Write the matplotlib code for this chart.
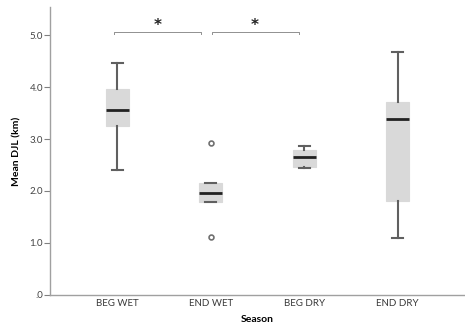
import matplotlib
matplotlib.use("Agg")
import matplotlib.pyplot as plt

plt.rcParams['font.family'] = ['Lato', 'DejaVu Sans']

seasons = ['BEG WET', 'END WET', 'BEG DRY', 'END DRY']
# box summaries: whisker low, Q1, median, Q3, whisker high
whis_lo = [2.40, 1.78, 2.45, 1.10]
q1 = [3.25, 1.78, 2.47, 1.80]
med = [3.56, 1.97, 2.65, 3.38]
q3 = [3.96, 2.15, 2.78, 3.72]
whis_hi = [4.46, 2.15, 2.87, 4.67]
outliers = [[], [2.93, 1.11], [], []]

# significance brackets: (start, end, height)
brackets = [(0.97, 1.90, 5.06), (2.01, 2.94, 5.06)]

stats = []
for i, name in enumerate(seasons):
    stats.append({'label': name, 'whislo': whis_lo[i], 'q1': q1[i], 'med': med[i],
                  'q3': q3[i], 'whishi': whis_hi[i], 'fliers': outliers[i]})

fig = plt.figure(figsize=(4.65, 3.27), dpi=100)
ax = fig.add_axes([0.1075, 0.098, 0.8925, 0.8806])

ax.bxp(stats, positions=[1, 2, 3, 4], widths=0.25, patch_artist=True,
       boxprops=dict(facecolor='#d9d9d9', edgecolor='#d9d9d9', linewidth=0.8),
       medianprops=dict(color='#222222', linewidth=2),
       whiskerprops=dict(color='#606060', linewidth=1.5),
       capprops=dict(color='#606060', linewidth=1.5),
       capwidths=0.12,
       flierprops=dict(marker='o', markersize=3.5, markerfacecolor='white',
                       markeredgecolor='#707070', markeredgewidth=1.2))

for x0, x1, y in brackets:
    ax.plot([x0, x0, x1, x1], [y - 0.04, y, y, y - 0.04], color='#909090', lw=0.7)
    ax.text((x0 + x1) / 2, y - 0.02, '*', ha='center', va='bottom',
            fontsize=11, fontweight='bold', color='#222222',
            family='DejaVu Sans')

ax.set_xlim(0.28, 4.72)
ax.set_ylim(0, 5.54)
ax.set_yticks([0, 1, 2, 3, 4, 5])
ax.set_yticklabels(['.0', '1.0', '2.0', '3.0', '4.0', '5.0'])
ax.tick_params(axis='y', colors='#808080', labelcolor='#444444', labelsize=7,
               length=4, width=0.8, pad=1)
ax.tick_params(axis='x', length=0, labelcolor='#3a3a3a', labelsize=7, pad=3)

for side in ['top', 'right']:
    ax.spines[side].set_visible(False)
for side in ['left', 'bottom']:
    ax.spines[side].set_color('#a0a0a0')
    ax.spines[side].set_linewidth(1.0)

ax.set_xlabel('Season', fontsize=7.5, fontweight='bold', labelpad=5)
ax.set_ylabel('Mean DJL (km)', fontsize=7.5, fontweight='bold', labelpad=6)

fig.savefig('out.png', dpi=100)
